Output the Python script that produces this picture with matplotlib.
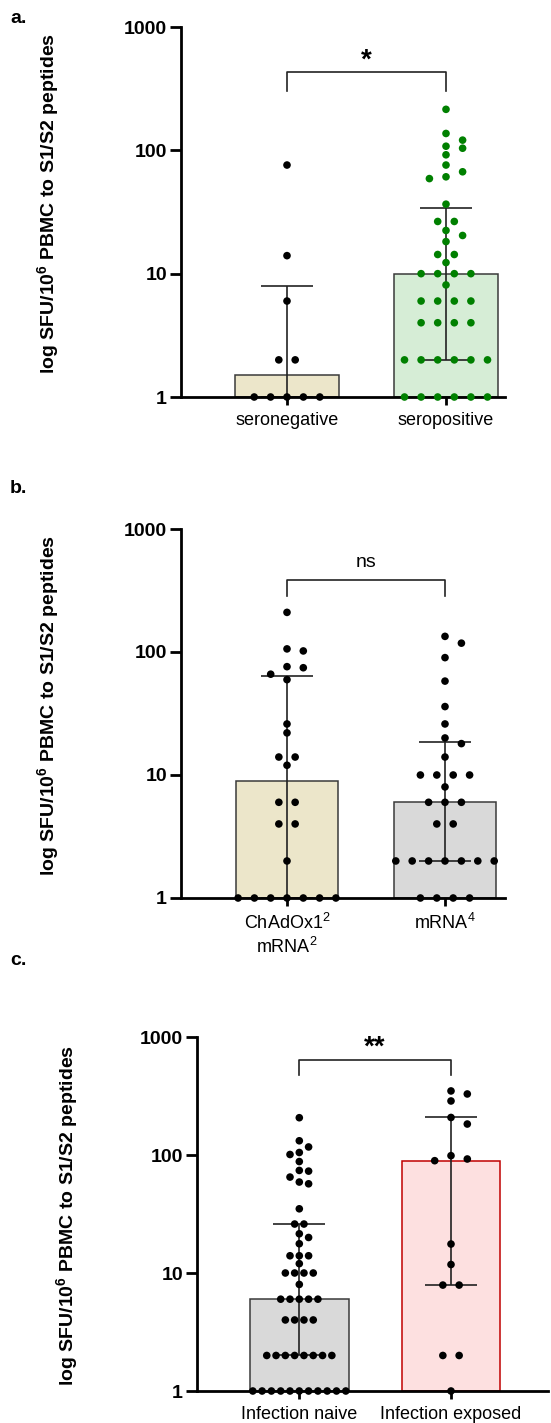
import numpy as np
import matplotlib
matplotlib.use("Agg")
import matplotlib.pyplot as plt

plt.rcParams['font.family'] = ['Liberation Sans', 'DejaVu Sans']
plt.rcParams['mathtext.fontset'] = 'custom'
plt.rcParams['mathtext.rm'] = 'Liberation Sans'
plt.rcParams['mathtext.bf'] = 'Liberation Sans:bold'
plt.rcParams['mathtext.it'] = 'Liberation Sans:italic'

# ---------------- data ----------------
# panel a
a_categories = ["seronegative", "seropositive"]
a_seronegative = [76, 14, 6, 2, 2, 1, 1, 1, 1, 1]
a_seropositive = [215, 137, 121, 108, 104, 92, 76, 67, 61, 59, 36.6, 26.5, 26.5,
                  22.4, 20.4, 18.2, 14.3, 14.3, 12.3, 10, 10, 10, 10, 8.1,
                  6, 6, 6, 6, 4, 4, 4, 4, 2, 2, 2, 2, 2, 2, 1, 1, 1, 1, 1, 1]
a_sig = "*"

# panel b
b_categories = ["ChAdOx1$^{2}$\nmRNA$^{2}$", "mRNA$^{4}$"]
b_chadox = [210, 106, 102, 76, 74.5, 66, 59.6, 26, 22, 14, 14, 12, 6, 6, 4, 4, 2,
            1, 1, 1, 1, 1, 1, 1]
b_mrna4 = [134, 118, 90, 58, 36, 26, 20, 18, 14, 10, 10, 10, 10, 8, 6, 6, 6, 4, 4,
           2, 2, 2, 2, 2, 2, 2, 1, 1, 1, 1]
b_sig = "ns"

# panel c
c_categories = ["Infection naive", "Infection exposed"]
c_naive = [207, 132, 117, 105, 101, 88, 74, 73, 65, 59, 57, 35, 26, 26, 21.5, 20,
           17.7, 14, 14, 14, 12, 10, 10, 10, 10, 8, 6, 6, 6, 6, 6, 4, 4, 4, 4,
           2, 2, 2, 2, 2, 2, 2, 2, 1, 1, 1, 1, 1, 1, 1, 1, 1, 1, 1]
c_exposed = [349, 329, 287, 208, 183, 98.7, 92.5, 89.5, 17.6, 11.8, 7.9, 7.9, 2, 2, 1]
c_sig = "**"

y_ticks = [1, 10, 100, 1000]
y_ticklabels = ["1", "10", "100", "1000"]
ylabel = r"log SFU/10$^{\mathbf{6}}$ PBMC to S1/S2 peptides"

# ---------------- layout ----------------
W, H = 551, 1423
fig = plt.figure(figsize=(W / 100, H / 100), dpi=100)


def swarm(values, d, decade_px, px_per_unit, thr_y=7.6):
    vals = np.asarray(values, float)
    xs = np.zeros(len(vals))
    placed = []
    for u in sorted(set(vals), reverse=True):
        idx = np.where(vals == u)[0]
        n = len(idx)
        base = (np.arange(n) - (n - 1) / 2) * d
        y = decade_px * np.log10(u)
        chosen = base
        found = False
        for k in range(0, 60):
            shifts = [0.0] if k == 0 else [k * 0.5 * d, -k * 0.5 * d]
            for s in shifts:
                pos = base + s
                ok = True
                for p in pos:
                    for (px, py) in placed:
                        if abs(y - py) < thr_y and abs(px - p) < d * 0.99:
                            ok = False
                            break
                    if not ok:
                        break
                if ok:
                    chosen = pos
                    found = True
                    break
            if found:
                break
        for i, p in zip(idx, chosen):
            xs[i] = p
            placed.append((p, y))
    return xs / px_per_unit


def panel(rect_px, groups, colors, edgecolors, dotcolors, spacings, cats, sig,
          br_y, br_tick, xlim, decade_px, px_per_unit):
    left, top, right, bottom = rect_px
    ax = fig.add_axes([left / W, 1 - bottom / H, (right - left) / W, (bottom - top) / H])
    ax.set_yscale('log')
    ax.set_ylim(1, 1000)
    ax.set_xlim(*xlim)
    for i, vals in enumerate(groups):
        q1, med, q3 = np.percentile(vals, [25, 50, 75], method='weibull')
        ax.bar(i, med - 1, bottom=1, width=0.65, color=colors[i],
               edgecolor=edgecolors[i], linewidth=1.1, zorder=1)
        ax.errorbar(i, med, yerr=[[med - q1], [q3 - med]], fmt='none',
                    ecolor='#222222', elinewidth=1.2, capsize=18.5,
                    capthick=1.2, zorder=2)
        xs = swarm(vals, spacings[i], decade_px, px_per_unit)
        ax.scatter(i + xs, vals, s=30, color=dotcolors[i], edgecolors='none',
                   zorder=4, clip_on=False)
    # significance bracket
    ax.plot([0, 0, 1, 1], [br_tick, br_y, br_y, br_tick], color='#222222',
            lw=1.2, clip_on=False, zorder=3)
    if sig == "ns":
        ax.annotate(sig, (0.5, br_y), xytext=(0, 6), textcoords='offset points',
                    ha='center', va='bottom', fontsize=14)
    else:
        ax.annotate(sig, (0.5, br_y), xytext=(0, -1), textcoords='offset points',
                    ha='center', va='bottom', fontsize=20, fontweight='bold')
    ax.set_yticks(y_ticks)
    ax.set_yticklabels(y_ticklabels, fontsize=14, fontweight='bold')
    ax.yaxis.set_minor_locator(matplotlib.ticker.NullLocator())
    ax.set_xticks(range(len(cats)))
    ax.set_xticklabels(cats, fontsize=13)
    ax.tick_params(axis='y', length=8, width=2, pad=2)
    ax.tick_params(axis='x', length=6, width=2, pad=5)
    for s in ['top', 'right']:
        ax.spines[s].set_visible(False)
    for s in ['left', 'bottom']:
        ax.spines[s].set_linewidth(2.0)
    return ax


beige = '#ECE6CA'
green_fill = '#D6EDD6'
grey_fill = '#D9D9D9'
pink_fill = '#FDE0E0'

# panel a
panel((181, 27, 505, 397), [a_seronegative, a_seropositive],
      [beige, green_fill], ['#3a3a3a', '#3a3a3a'], ['black', '#008000'],
      [16.4, 16.6], a_categories, a_sig, 430, 302,
      (-(287 - 181) / 159, (505 - 287) / 159), 123, 159)

# panel b
panel((181, 529, 505, 898), [b_chadox, b_mrna4],
      [beige, grey_fill], ['#3a3a3a', '#3a3a3a'], ['black', 'black'],
      [16.3, 16.4], b_categories, b_sig, 387, 283,
      (-(287 - 181) / 158, (505 - 287) / 158), 123, 158)

# panel c
panel((197, 1037, 548, 1391), [c_naive, c_exposed],
      [grey_fill, pink_fill], ['#3a3a3a', '#C00000'], ['black', 'black'],
      [9.3, 16.3], c_categories, c_sig, 643, 473,
      (-(299.3 - 197) / 151.7, (548 - 299.3) / 151.7), 118, 151.7)

# y labels
for yc, xc in [(203, 48), (705, 48), (1215, 67)]:
    fig.text(xc / W, 1 - yc / H, ylabel, rotation=90, ha='center', va='center',
             fontsize=14, fontweight='bold')

# panel letters
for lab, yt in [("a.", 10), ("b.", 480), ("c.", 952)]:
    fig.text(10 / W, 1 - yt / H, lab, ha='left', va='top', fontsize=14,
             fontweight='bold')

fig.savefig("out.png", dpi=100)
